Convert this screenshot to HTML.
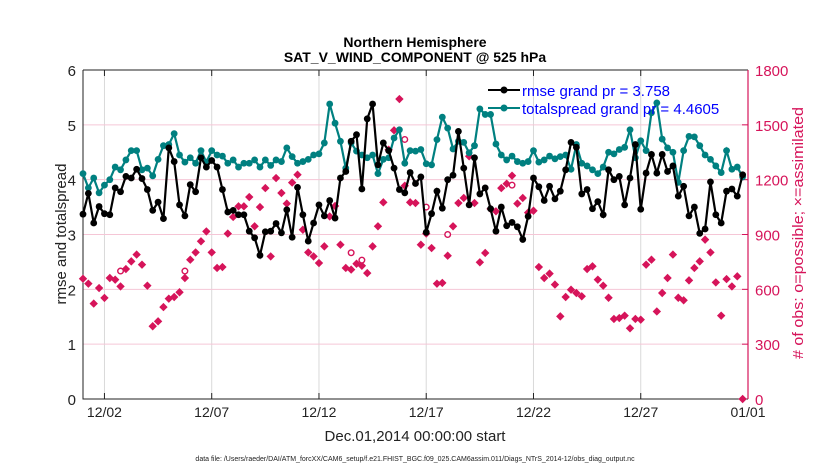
<!DOCTYPE html>
<html><head><meta charset="utf-8"><style>
body{margin:0;background:#fff;width:830px;height:470px;overflow:hidden;font-family:"Liberation Sans",Arial,sans-serif}
svg text{font-family:"Liberation Sans",Arial,sans-serif}
</style></head><body>
<svg id="chart" width="830" height="470" xmlns="http://www.w3.org/2000/svg">
<text x="415" y="47" text-anchor="middle" font-size="14" font-weight="bold">Northern Hemisphere</text>
<text x="415" y="62" text-anchor="middle" font-size="14" font-weight="bold">SAT_V_WIND_COMPONENT @ 525 hPa</text>
<g id="grid"></g><g id="axes"></g><g id="obs"></g><g id="series"></g>
<text x="415" y="441" text-anchor="middle" font-size="15" fill="#222">Dec.01,2014 00:00:00 start</text>
<text transform="translate(66,234) rotate(-90)" text-anchor="middle" font-size="15" fill="#222">rmse and totalspread</text>
<text transform="translate(803,233) rotate(-90)" text-anchor="middle" font-size="15" textLength="252" lengthAdjust="spacingAndGlyphs" fill="#d6145a"># of obs: o=possible; ×=assimilated</text>
<text x="415" y="461" text-anchor="middle" font-size="7" fill="#222">data file: /Users/raeder/DAI/ATM_forcXX/CAM6_setup/f.e21.FHIST_BGC.f09_025.CAM6assim.011/Diags_NTrS_2014-12/obs_diag_output.nc</text>
<g id="legend"></g>
</svg>
<script>
const rmse=[3.37,3.75,3.21,3.51,3.38,3.36,3.85,3.78,4.06,4.03,4.19,4.02,3.82,3.44,3.59,3.29,4.58,4.33,3.54,3.34,3.91,3.78,4.4,4.23,4.35,4.23,3.82,3.41,3.44,3.36,3.36,3.06,2.94,2.62,3.05,3.06,3.2,3.03,3.45,2.95,3.86,3.36,2.88,
3.21,3.54,3.34,3.62,3.3,4.03,4.15,4.7,4.82,3.83,5.11,5.38,4.27,4.67,4.53,4.21,3.82,3.76,4.13,3.93,4.05,3.04,3.38,3.79,3.48,4.0,4.08,4.88,4.21,3.54,4.4,3.74,3.85,3.47,3.06,3.5,3.16,3.22,3.14,2.91,3.33,4.03,3.87,
3.62,3.88,3.65,3.79,4.18,4.68,4.59,3.74,3.82,3.47,3.6,3.36,4.18,4.0,4.06,3.54,4.03,4.64,3.46,4.12,4.46,4.12,4.46,4.15,4.25,3.7,3.88,3.34,3.5,3.02,3.1,3.96,3.36,3.21,3.79,3.83,3.7,4.09];
const spread=[4.11,3.85,4.03,3.76,3.9,4.0,4.23,4.18,4.36,4.53,4.53,4.18,4.21,4.07,4.37,4.62,4.64,4.84,4.45,4.32,4.4,4.3,4.53,4.32,4.53,4.45,4.43,4.3,4.36,4.23,4.3,4.3,4.36,4.23,4.36,4.26,4.36,4.33,4.58,4.42,4.3,4.33,4.37,
4.45,4.47,4.67,5.38,5.03,4.7,4.21,4.67,4.52,4.45,4.4,4.45,4.11,4.37,4.4,4.76,4.91,4.3,4.53,4.52,4.55,4.29,4.27,4.73,5.14,4.94,4.56,4.7,4.68,4.49,4.62,5.29,5.19,5.19,4.65,4.45,4.36,4.43,4.33,4.3,4.33,4.53,4.32,
4.36,4.43,4.38,4.42,4.45,4.19,4.64,4.3,4.25,4.18,4.11,4.23,4.5,4.47,4.55,4.59,4.91,4.4,4.71,4.53,5.22,5.4,4.74,4.58,4.5,3.95,4.53,4.79,4.78,4.62,4.45,4.37,4.25,4.13,4.53,4.19,4.23,4.05];
const obsAssim=[658,631,522,607,553,662,653,616,711,753,790,735,620,398,425,503,549,558,584,662,762,802,863,917,802,717,722,905,996,1054,1054,1105,945,1050,1154,780,1209,1127,1069,1184,1227,926,802,
780,744,835,999,1056,844,717,708,740,729,689,835,945,1076,1364,1470,1641,1167,1076,1072,844,905,826,631,635,784,945,1072,1100,1328,1072,748,799,1040,1027,1154,1178,1222,1069,1100,1020,1030,
722,662,686,626,452,558,598,580,562,711,726,653,620,554,438,443,456,387,438,434,735,762,479,580,662,790,554,540,649,717,753,872,802,638,456,656,616,671,0];
const possibleIdx=[7,19,50,52,60,64,68,80];
const obsPossible=[700,700,800,760,1420,1050,900,1170];
const xTicks=['12/02','12/07','12/12','12/17','12/22','12/27','01/01'];
const xTickDays=[1,6,11,16,21,26,31];
const yTicks=[0,1,2,3,4,5,6];
const yRightTicks=[0,300,600,900,1200,1500,1800];

const L=83,R=748,T=70,B=399,NS='http://www.w3.org/2000/svg';
const xs=d=>L+(d/31)*(R-L);
const ys=v=>B-(v/6)*(B-T);
const yr=v=>B-(v/1800)*(B-T);
function mk(tag,attrs,parent){const e=document.createElementNS(NS,tag);for(const k in attrs)e.setAttribute(k,attrs[k]);document.getElementById(parent).appendChild(e);return e;}
xTickDays.forEach((d,i)=>{const g=mk('line',{x1:xs(d),x2:xs(d),y1:T,y2:B,stroke:'#d9d9d9','stroke-width':1},'grid');


const t=mk('text',{x:xs(d),y:B+18,'text-anchor':'middle','font-size':14,fill:'#222'},'axes');t.textContent=xTicks[i];


mk('line',{x1:xs(d),x2:xs(d),y1:B,y2:B-6,stroke:'#222'},'axes');
mk('line',{x1:xs(d),x2:xs(d),y1:T,y2:T+6,stroke:'#222'},'axes');});
yTicks.forEach(v=>{if(v>0&&v<6){const g=mk('line',{x1:L,x2:R,y1:ys(v),y2:ys(v),stroke:'#f5c6d6','stroke-width':1},'grid');

}
const t=mk('text',{x:L-7,y:ys(v)+6,'text-anchor':'end','font-size':15,fill:'#222'},'axes');t.textContent=v;

});
yRightTicks.forEach(v=>{const t=mk('text',{x:R+7,y:yr(v)+6,'font-size':15,fill:'#d6145a'},'axes');t.textContent=v;


mk('line',{x1:R,x2:R-6,y1:yr(v),y2:yr(v),stroke:'#d6145a'},'axes');});
const fr=mk('path',{d:`M${L},${T}H${R}M${L},${T}V${B}H${R}`,fill:'none',stroke:'#222','stroke-width':1},'axes');


const ra=mk('line',{x1:R,x2:R,y1:T,y2:B,stroke:'#d6145a','stroke-width':1.2},'axes');


obsAssim.forEach((v,i)=>{const x=xs(i/4),y=yr(v);
const p=mk('path',{d:`M${x},${y-4.2}L${x+4.2},${y}L${x},${y+4.2}L${x-4.2},${y}Z`,fill:'#d6145a'},'obs');

});
possibleIdx.forEach((idx,j)=>{const c=mk('circle',{cx:xs(idx/4),cy:yr(obsPossible[j]),r:2.8,fill:'#fff',stroke:'#d6145a','stroke-width':1.4},'obs');

});
function series(arr,color,name){
const pts=arr.map((v,i)=>xs(i/4)+','+ys(v)).join(' ');
const pl=mk('polyline',{points:pts,fill:'none',stroke:color,'stroke-width':2.2},'series');


arr.forEach((v,i)=>{const c=mk('circle',{cx:xs(i/4),cy:ys(v),r:3.4,fill:color},'series');

});}
series(spread,'#008080','totalspread');
series(rmse,'#000000','rmse');
// legend on top
[['#000','rmse grand pr = 3.758',90,'legend-entry-rmse'],['#008080','totalspread grand pr = 4.4605',108,'legend-entry-spread']].forEach(e=>{
mk('line',{x1:488,y1:e[2],x2:520,y2:e[2],stroke:e[0],'stroke-width':2},'legend');
mk('circle',{cx:504,cy:e[2],r:3.5,fill:e[0]},'legend');
const t=mk('text',{x:522,y:e[2]+6,'font-size':15,fill:'#0000ff'},'legend');t.textContent=e[1];

});
</script>
</body></html>
